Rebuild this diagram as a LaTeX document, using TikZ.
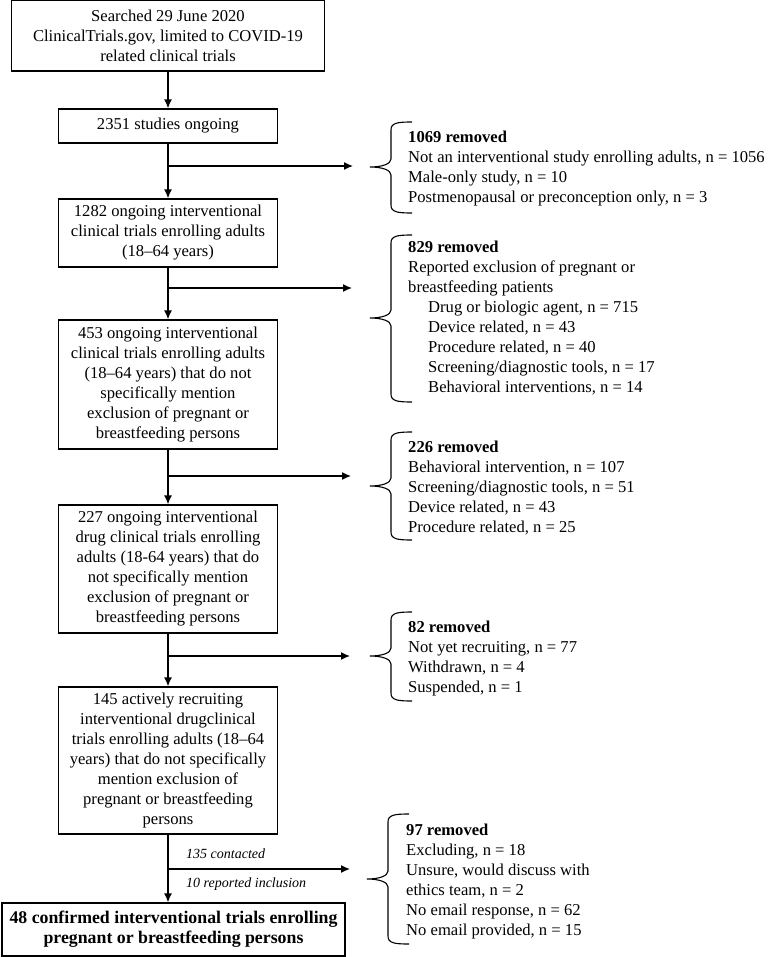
\documentclass[tikz,border=0pt]{standalone}
\usepackage{fontspec}
\setmainfont{Liberation Serif}
\usetikzlibrary{arrows.meta,positioning}

\begin{document}
\begin{tikzpicture}[x=1pt,y=-1pt,
font=\fontsize{16.6}{20}\selectfont,
flow/.style={-{Latex[length=9pt,width=8pt]},line width=1.4pt},
stepbox/.style={draw,line width=1.2pt,align=center,inner sep=0pt,minimum width=219pt},
removed/.style={align=left,inner sep=0pt,anchor=north west},
brace/.style={line width=1.1pt},
note/.style={font=\fontsize{14}{17}\selectfont\itshape,inner sep=0pt,anchor=base west}]
\useasboundingbox (0,0) rectangle (769,957);

% main column
\node[stepbox,minimum width=313pt,minimum height=71pt] (search) at (168,35.5)
  {Searched 29 June 2020\\ClinicalTrials.gov, limited to COVID-19\\related clinical trials};
\node[stepbox,minimum height=34pt] (ongoing) at (168,126) {2351 studies ongoing};
\node[stepbox,minimum height=68pt] (adults) at (168,233)
  {1282 ongoing interventional\\clinical trials enrolling adults\\(18--64 years)};
\node[stepbox,minimum height=129pt] (nomention) at (168,384.5)
  {453 ongoing interventional\\clinical trials enrolling adults\\(18--64 years) that do not\\specifically mention\\exclusion of pregnant or\\breastfeeding persons};
\node[stepbox,minimum height=128pt] (drug) at (168,569)
  {227 ongoing interventional\\drug clinical trials enrolling\\adults (18-64 years) that do\\not specifically mention\\exclusion of pregnant or\\breastfeeding persons};
\node[stepbox,minimum height=147pt] (recruit) at (168,760.5)
  {145 actively recruiting\\interventional drugclinical\\trials enrolling adults (18--64\\years) that do not specifically\\mention exclusion of\\pregnant or breastfeeding\\persons};
\node[stepbox,minimum width=343pt,minimum height=53pt,font=\fontsize{17.8}{20}\selectfont\bfseries] (confirmed) at (173.5,929.5)
  {48 confirmed interventional trials enrolling\\pregnant or breastfeeding persons};

% removed lists
\node[removed] (rem1) at (408,131)
  {\textbf{1069 removed}\\Not an interventional study enrolling adults, n = 1056\\Male-only study, n = 10\\Postmenopausal or preconception only, n = 3};
\node[removed] (rem2) at (408,241)
  {\textbf{829 removed}\\Reported exclusion of pregnant or\\breastfeeding patients\\
   \hspace*{20pt}Drug or biologic agent, n = 715\\\hspace*{20pt}Device related, n = 43\\
   \hspace*{20pt}Procedure related, n = 40\\\hspace*{20pt}Screening/diagnostic tools, n = 17\\
   \hspace*{20pt}Behavioral interventions, n = 14};
\node[removed] (rem3) at (408,441)
  {\textbf{226 removed}\\Behavioral intervention, n = 107\\Screening/diagnostic tools, n = 51\\Device related, n = 43\\Procedure related, n = 25};
\node[removed] (rem4) at (408,621)
  {\textbf{82 removed}\\Not yet recruiting, n = 77\\Withdrawn, n = 4\\Suspended, n = 1};
\node[removed] (rem5) at (406,824)
  {\textbf{97 removed}\\Excluding, n = 18\\Unsure, would discuss with\\ethics team, n = 2\\No email response, n = 62\\No email provided, n = 15};

% arrow ends
\coordinate (r1) at (353,166);
\coordinate (r2) at (352,288);
\coordinate (r3) at (351,476);
\coordinate (r4) at (350,656);
\coordinate (r5) at (350,869);

\draw[flow] (search.south) -- (ongoing.north);
\draw[flow] (ongoing.south) -- (adults.north);
\draw[flow] (adults.south) -- (nomention.north);
\draw[flow] (nomention.south) -- (drug.north);
\draw[flow] (drug.south) -- (recruit.north);
\draw[flow] (recruit.south) -- (recruit.south |- confirmed.north);

\draw[flow] (ongoing.south |- r1) -- (r1);
\draw[flow] (adults.south |- r2) -- (r2);
\draw[flow] (nomention.south |- r3) -- (r3);
\draw[flow] (drug.south |- r4) -- (r4);
\draw[flow] (recruit.south |- r5) -- (r5);

\node[note] (contacted) at (186,858) {135 contacted};
\node[note] (included) at (186,887) {10 reported inclusion};

% braces
\draw[brace] (412,122) .. controls (397,122) and (391,123) .. (391,130) -- (391,159) .. controls (391,164) and (382,167) .. (370,167) .. controls (382,167) and (391,170) .. (391,175) -- (391,205) .. controls (391,212) and (397,213) .. (412,213);
\draw[brace] (412,235) .. controls (397,235) and (391,236) .. (391,243) -- (391,310) .. controls (391,315) and (382,318) .. (370,318) .. controls (382,318) and (391,321) .. (391,326) -- (391,394) .. controls (391,401) and (397,402) .. (412,402);
\draw[brace] (412,432) .. controls (397,432) and (391,433) .. (391,440) -- (391,478) .. controls (391,483) and (382,486) .. (370,486) .. controls (382,486) and (391,489) .. (391,494) -- (391,532) .. controls (391,539) and (397,540) .. (412,540);
\draw[brace] (412,612) .. controls (397,612) and (391,613) .. (391,620) -- (391,648) .. controls (391,653) and (382,656) .. (370,656) .. controls (382,656) and (391,659) .. (391,664) -- (391,693) .. controls (391,700) and (397,701) .. (412,701);
\draw[brace] (409,814) .. controls (394,814) and (388,815) .. (388,822) -- (388,871) .. controls (388,876) and (379,879) .. (367,879) .. controls (379,879) and (388,882) .. (388,887) -- (388,936) .. controls (388,943) and (394,944) .. (409,944);
\end{tikzpicture}
\end{document}
